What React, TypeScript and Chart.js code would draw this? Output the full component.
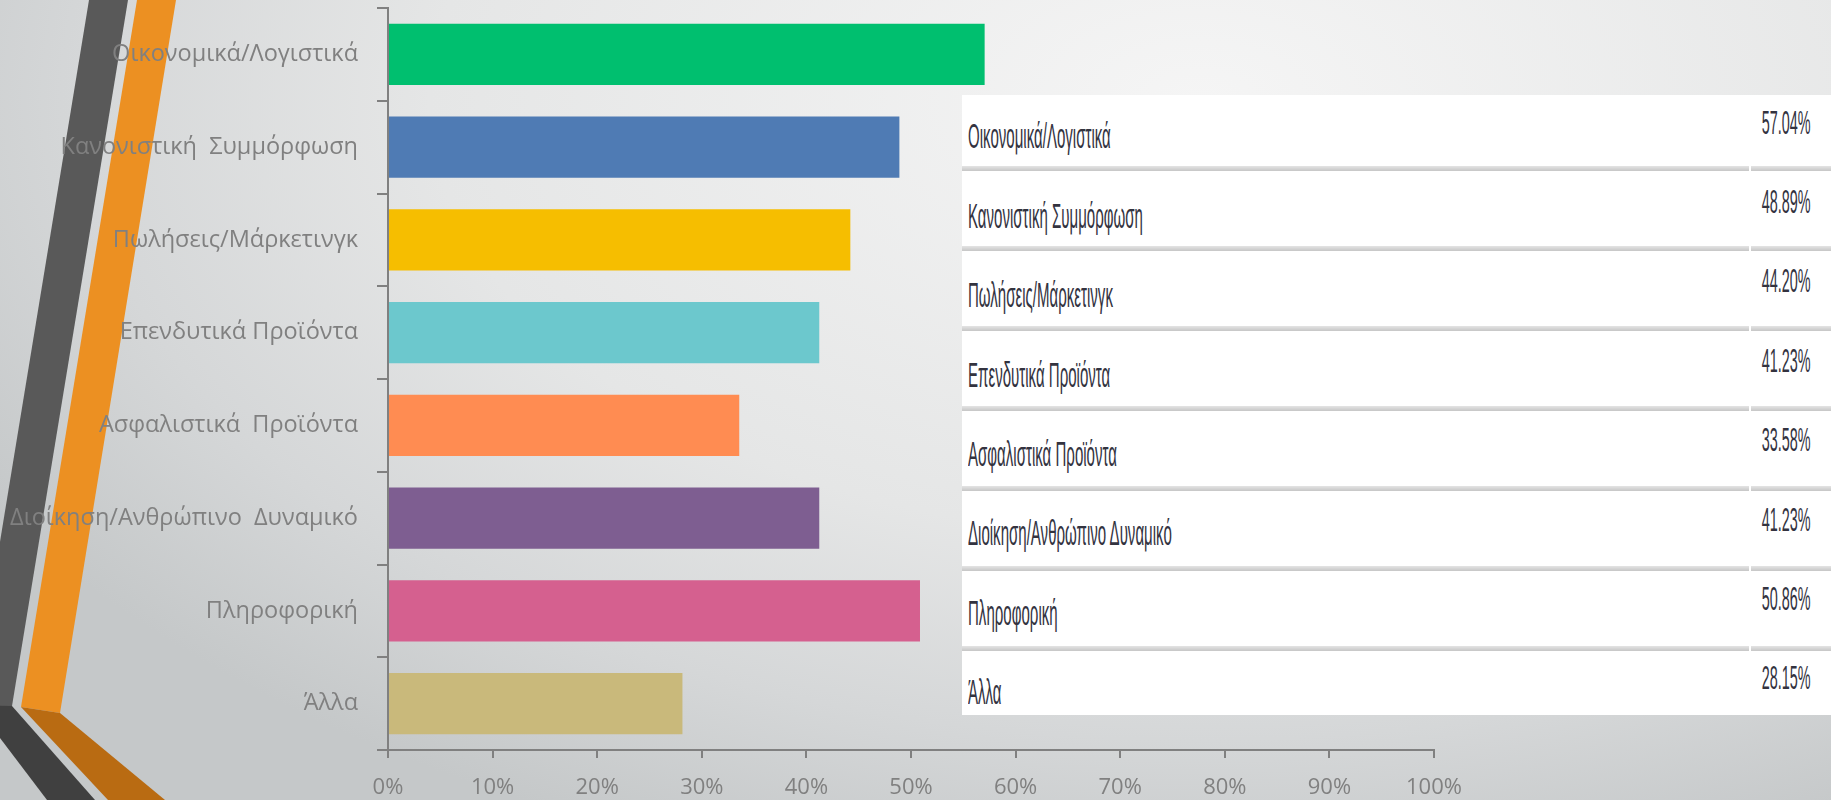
import React, { useEffect, useRef } from "react";
import { Chart, registerables } from "chart.js";

Chart.register(...registerables);

const categories = [
  "Οικονομικά/Λογιστικά",
  "Κανονιστική  Συμμόρφωση",
  "Πωλήσεις/Μάρκετινγκ",
  "Επενδυτικά Προϊόντα",
  "Ασφαλιστικά  Προϊόντα",
  "Διοίκηση/Ανθρώπινο  Δυναμικό",
  "Πληροφορική",
  "Άλλα",
];
const values = [57.04, 48.89, 44.2, 41.23, 33.58, 41.23, 50.86, 28.15];
const barColors = [
  "#00BF6F",
  "#4F7BB4",
  "#F6BE00",
  "#6CC8CD",
  "#FF8C52",
  "#7E5E91",
  "#D5608F",
  "#C9B97B",
];
const xMin = 0;
const xMax = 100;
const xStep = 10;

const AXIS = "#808080";

export default function App() {
  const ref = useRef<HTMLCanvasElement>(null);

  useEffect(() => {
    if (!ref.current) return;
    const chart = new Chart(ref.current, {
      type: "bar",
      data: {
        labels: categories,
        datasets: [
          {
            data: values,
            backgroundColor: barColors,
            borderWidth: 0,
            barPercentage: 0.658,
            categoryPercentage: 1,
          },
        ],
      },
      options: {
        indexAxis: "y",
        responsive: false,
        animation: false,
        devicePixelRatio: 1,
        layout: { padding: { top: 8, right: 397, bottom: 0, left: 0 } },
        plugins: { legend: { display: false }, tooltip: { enabled: false } },
        scales: {
          x: {
            min: xMin,
            max: xMax,
            ticks: {
              stepSize: xStep,
              callback: (v: any) => v + "%",
              color: AXIS,
              font: { family: '"Open Sans"', size: 22 },
              padding: 17,
              maxRotation: 0,
              autoSkip: false,
            },
            grid: { drawOnChartArea: false, tickLength: 8, color: AXIS, lineWidth: 2 },
            border: { color: AXIS, width: 2 },
            afterFit: (s: any) => {
              s.height = 50;
              s.paddingLeft = 0;
              s.paddingRight = 0;
            },
          },
          y: {
            ticks: {
              color: AXIS,
              font: { family: '"Open Sans"', size: 23.5 },
              padding: 19,
              autoSkip: false,
            },
            grid: {
              drawOnChartArea: false,
              tickLength: 11,
              color: AXIS,
              lineWidth: 2,
              offset: true,
            },
            border: { color: AXIS, width: 2 },
            afterFit: (s: any) => {
              s.width = 388;
              s.paddingTop = 0;
              s.paddingBottom = 0;
            },
          },
        },
      } as any,
    });
    return () => chart.destroy();
  }, []);

  const tableTop = 95;
  const labelPitch = 79.4;

  return (
    <div
      style={{
        position: "absolute",
        left: 0,
        top: 0,
        width: 1831,
        height: 800,
        overflow: "hidden",
        background:
          "radial-gradient(1400px 800px at 1200px 100px, #f5f5f5 0%, #e5e6e6 55%, #d5d7d8 80%, #c5c8c9 100%)",
      }}
    >
      <svg
        width={1831}
        height={800}
        style={{ position: "absolute", left: 0, top: 0 }}
      >
        <polygon points="89,0 128,0 12,706 -27,706" fill="#595959" />
        <polygon points="-25,705 12,706 95,800 47,800" fill="#404040" />
        <polygon points="137,0 176,0 60,713 21,707" fill="#EC9022" />
        <polygon points="21,707 60,713 165,800 108,800" fill="#B96B12" />
      </svg>
      <canvas
        ref={ref}
        width={1831}
        height={800}
        style={{ position: "absolute", left: 0, top: 0 }}
      />
      <div
        style={{
          position: "absolute",
          left: 962,
          top: tableTop,
          width: 869,
          height: 620,
          background: "#ffffff",
          fontFamily: '"Liberation Sans", Arial, sans-serif',
          color: "#33333f",
        }}
      >
        {[0, 1, 2, 3, 4, 5, 6].map((k) => (
          <React.Fragment key={"sep" + k}>
            <div
              style={{
                position: "absolute",
                left: 0,
                top: 166 + 80 * k - tableTop,
                width: 787,
                height: 5,
                background: "linear-gradient(#e4e4e4, #c6c6c6)",
              }}
            />
            <div
              style={{
                position: "absolute",
                left: 789,
                top: 166 + 80 * k - tableTop,
                width: 80,
                height: 5,
                background: "linear-gradient(#e4e4e4, #c6c6c6)",
              }}
            />
          </React.Fragment>
        ))}
        {categories.map((c, i) => (
          <div
            key={"l" + i}
            style={{
              position: "absolute",
              left: 6,
              top: 148 + labelPitch * i - tableTop - 29.6,
              fontSize: 35,
              lineHeight: "35px",
              whiteSpace: "nowrap",
              transform: "scaleX(0.43)",
              transformOrigin: "left top",
            }}
          >
            {c}
          </div>
        ))}
        {values.map((v, i) => (
          <div
            key={"v" + i}
            style={{
              position: "absolute",
              right: 20,
              top: 134 + labelPitch * i - tableTop - 28.4,
              fontSize: 33.5,
              lineHeight: "33.5px",
              whiteSpace: "nowrap",
              transform: "scaleX(0.43)",
              transformOrigin: "right top",
            }}
          >
            {v.toFixed(2) + "%"}
          </div>
        ))}
      </div>
    </div>
  );
}
